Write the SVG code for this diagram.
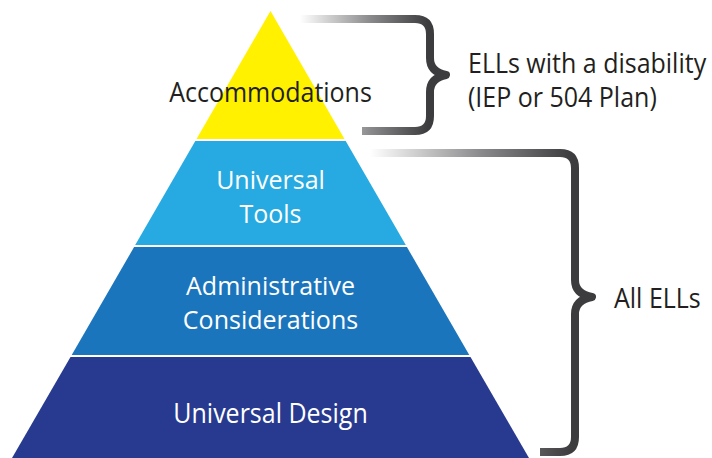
<svg xmlns="http://www.w3.org/2000/svg" width="712" height="458" viewBox="0 0 712 458">
  <style>
    text { font-family: "Open Sans", "Noto Sans", "Liberation Sans", sans-serif; font-size: 25px; }
    .lbl { text-anchor: middle; }
    .w { fill: #ffffff; }
    .d { fill: #231f20; }
    .brace { fill: none; stroke-width: 8; stroke-linecap: butt; stroke-linejoin: round; }
  </style>
  <defs>
    <linearGradient id="g1" gradientUnits="userSpaceOnUse" x1="300" y1="0" x2="428" y2="0">
      <stop offset="0" stop-color="#ffffff"/>
      <stop offset="0.55" stop-color="#8a8a8c"/>
      <stop offset="1" stop-color="#3c3c3e"/>
    </linearGradient>
    <linearGradient id="g2" gradientUnits="userSpaceOnUse" x1="370" y1="0" x2="572" y2="0">
      <stop offset="0" stop-color="#ffffff"/>
      <stop offset="0.55" stop-color="#8a8a8c"/>
      <stop offset="1" stop-color="#3c3c3e"/>
    </linearGradient>
  </defs>
  <rect width="712" height="458" fill="#ffffff"/>

  <g id="layer-accommodations">
    <polygon points="270.5,11 344.5,139 196.5,139" fill="#fff100"/>
    <text class="lbl d" transform="translate(270.5,102) scale(1,1.1)">Accommodations</text>
  </g>
  <g id="layer-universal-tools">
    <polygon points="195.3,141 345.7,141 405.8,245 135.2,245" fill="#27aae1"/>
    <text class="lbl w" x="270.5" y="189">Universal</text>
    <text class="lbl w" x="270.5" y="223">Tools</text>
  </g>
  <g id="layer-administrative">
    <polygon points="134.1,247 406.9,247 469.3,355 71.7,355" fill="#1b75bc"/>
    <text class="lbl w" x="270.5" y="295">Administrative</text>
    <text class="lbl w" x="270.5" y="329">Considerations</text>
  </g>
  <g id="layer-universal-design">
    <polygon points="70.5,357 470.5,357 529,458 12,458" fill="#283a8f"/>
    <text class="lbl w" transform="translate(270.5,423) scale(1,1.1)">Universal Design</text>
  </g>

  <g id="connectors">
    <path class="brace" stroke="url(#g1)" d="M300,19 H415 Q430,19 430,34 V58 Q430,72 446,75 Q430,78 430,92 V116 Q430,131 415,131 H362"/>
    <path class="brace" stroke="url(#g2)" d="M370,153 H560 Q575,153 575,168 V280 Q575,294 592,297 Q575,300 575,314 V437 Q575,452 560,452 H540"/>
  </g>

  <g id="label-disability">
    <text class="d" transform="translate(468,73) scale(1,1.1)">ELLs with a disability</text>
    <text class="d" transform="translate(468,107) scale(1,1.1)">(IEP or 504 Plan)</text>
  </g>
  <g id="label-all">
    <text class="d" transform="translate(614,308) scale(1,1.1)">All ELLs</text>
  </g>
</svg>
